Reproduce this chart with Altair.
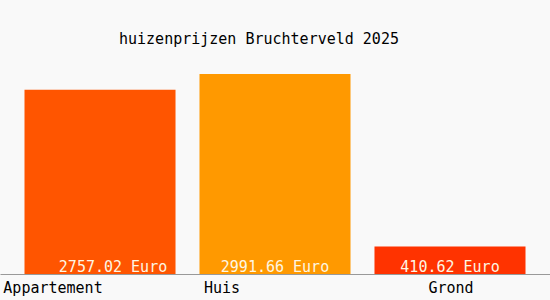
import altair as alt
import pandas as pd

categories = ["Appartement", "Huis", "Grond"]
prices = [2757.02, 2991.66, 410.62]
colors = ["#ff5500", "#ff9900", "#ff3300"]

df = pd.DataFrame({"type": categories, "price": prices})

FONT = "DejaVu Sans Mono"

x = alt.X(
    "type:N",
    sort=categories,
    scale=alt.Scale(paddingInner=0.137, paddingOuter=0.14, align=0.5),
    axis=alt.Axis(
        title=None,
        labelAngle=0,
        ticks=False,
        tickSize=0,
        grid=False,
        domainColor="#999999",
        domainWidth=1,
        labelFont=FONT,
        labelFontSize=15,
        labelColor="#000000",
        labelBaseline="alphabetic",
        labelPadding=18,
        labelAlign="center",
        labelOffset=alt.expr(
            "datum.value == 'Appartement' ? -47 : (datum.value == 'Huis' ? -53 : 1)"
        ),
    ),
)

y_scale = alt.Scale(domain=[0, 3350], nice=False, zero=True)

bars = alt.Chart(df).mark_bar().encode(
    x=x,
    y=alt.Y("price:Q", scale=y_scale, axis=None),
    color=alt.Color(
        "type:N",
        scale=alt.Scale(domain=categories, range=colors),
        legend=None,
    ),
)

labels = (
    alt.Chart(df)
    .transform_calculate(label="format(datum.price, '.2f') + ' Euro'")
    .mark_text(
        font=FONT,
        fontSize=15,
        color="#fdf6e3",
        baseline="alphabetic",
        align="center",
        dy=-2,
        dx=alt.expr("datum.type == 'Appartement' ? 13 : 0"),
    )
    .encode(
        x=alt.X("type:N", sort=categories),
        y=alt.datum(0, scale=y_scale),
        text="label:N",
    )
)

chart = (
    alt.layer(bars, labels)
    .properties(
        width=550,
        height=224,
        background="#f9f9f9",
        padding={"left": 0, "top": 50, "right": 0, "bottom": 26},
        autosize=alt.AutoSizeParams(type="none"),
        title=alt.TitleParams(
            "huizenprijzen Bruchterveld 2025",
            font=FONT,
            fontSize=15,
            fontWeight="normal",
            color="#000000",
            anchor="start",
            dx=119,
            dy=16,
            offset=7,
            baseline="alphabetic",
        ),
    )
    .configure_view(stroke=None)
)

chart.save("out.html", embed_options={"renderer": "svg", "actions": False})
